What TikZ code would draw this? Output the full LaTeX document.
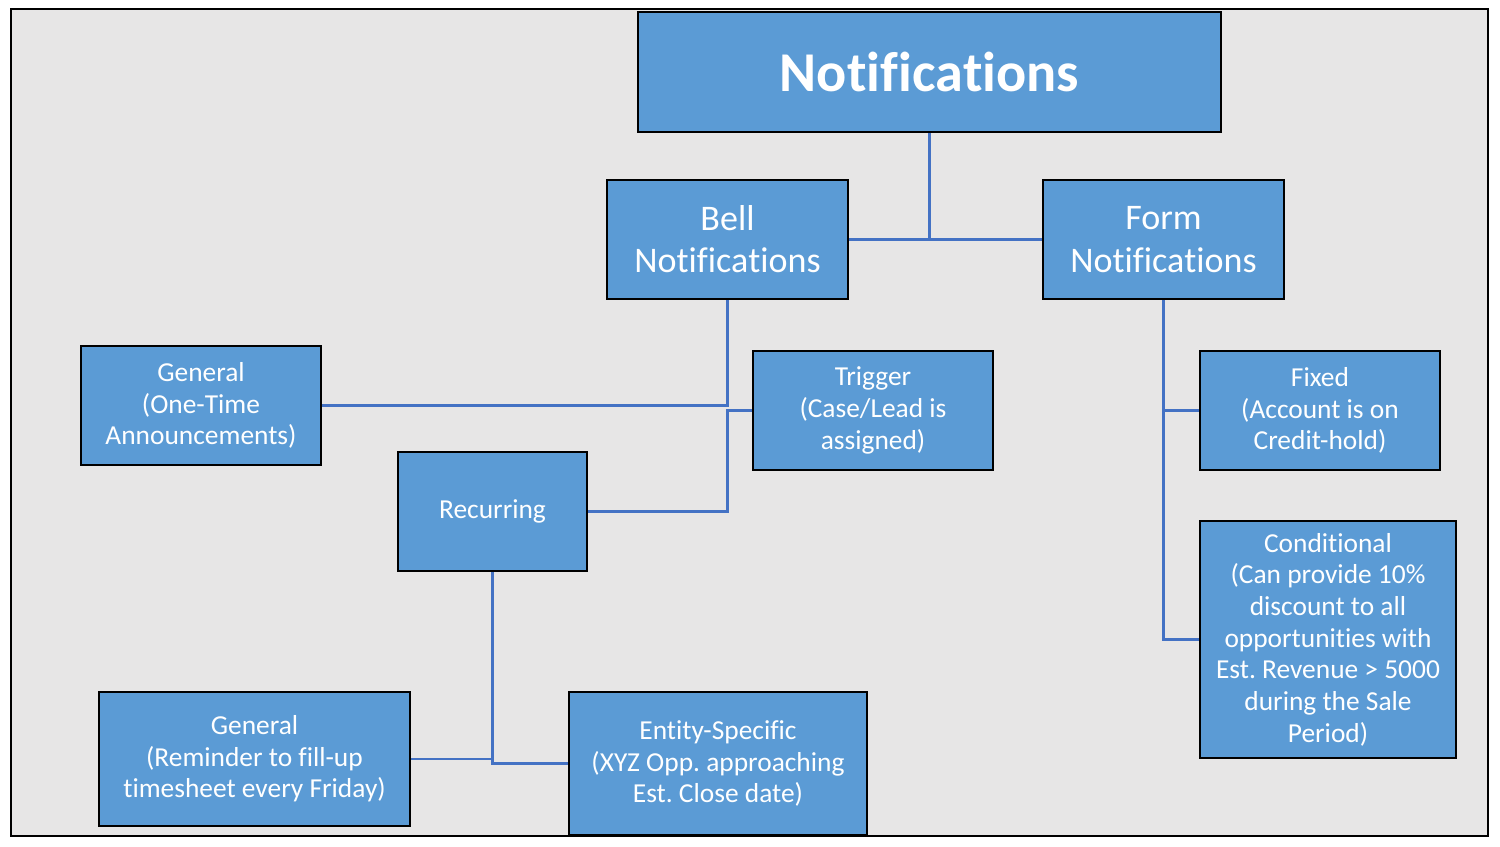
\documentclass[tikz,border=0pt]{standalone}
\usepackage{fontspec}
\setmainfont{Carlito}[Ligatures={NoCommon,NoContextual}]
\usetikzlibrary{calc}
\frenchspacing

\definecolor{boxblue}{HTML}{5B9BD5}
\definecolor{linkblue}{HTML}{4472C4}
\definecolor{panelgray}{HTML}{E7E6E6}

% keep "ti" apart
\newcommand{\notifword}{Notifica\kern0pt tions}

\begin{document}
\begin{tikzpicture}[x=0.02cm, y=-0.02cm,
  box/.style={draw=black, line width=1.3pt, fill=boxblue, text=white,
    align=center, inner sep=0pt},
  small/.style={font=\fontsize{15.6}{18}\selectfont},
  mid/.style={font=\fontsize{20.5}{24}\selectfont},
  link/.style={draw=linkblue, line width=1.5pt}]

\useasboundingbox (0,0) rectangle (1500,846);

% Panel
\draw[fill=panelgray, line width=0.7pt] (11,9) rectangle (1488,836);

% Boxes
\node[box, minimum width=11.66cm, minimum height=2.4cm,
  font=\fontsize{32}{38}\selectfont\bfseries] (notif) at (929.5,72) {\notifword};
\node[box, mid, minimum width=4.82cm, minimum height=2.38cm] (bell) at (727.5,239.5)
  {Bell\\\notifword};
\node[box, mid, minimum width=4.82cm, minimum height=2.38cm] (form) at (1163.5,239.5)
  {Form\\\notifword};
\node[box, small, minimum width=4.8cm, minimum height=2.38cm] (gen1) at (201,405.5)
  {General\\(One-Time\\Announcements)};
\node[box, small, minimum width=4.8cm, minimum height=2.38cm] (trigger) at (873,410.5)
  {Trigger\\(Case/Lead is\\assigned)};
\node[box, small, minimum width=3.78cm, minimum height=2.38cm] (recur) at (492.5,511.5)
  {Recurring};
\node[box, small, minimum width=4.8cm, minimum height=2.38cm] (fixed) at (1320,410.5)
  {Fixed\\(Account is on\\Credit-hold)};
\node[box, small, minimum width=5.12cm, minimum height=4.74cm] (cond) at (1328,639.5)
  {Conditional\\(Can provide 10\%\\discount to all\\opportunities with\\Est. Revenue > 5000\\during the Sale\\Period)};
\node[box, small, minimum width=6.22cm, minimum height=2.68cm] (gen2) at (254.5,759)
  {General\\(Reminder to fill-up\\timesheet every Friday)};
\node[box, small, minimum width=5.96cm, minimum height=2.86cm] (entity) at (718,763.5)
  {Entity-Specific\\(XYZ Opp. approaching\\Est. Close date)};

% Connectors
\draw[link] (notif.south) -- (notif.south |- bell.east);
\draw[link] (bell.east) -- (form.west);
\draw[link] (bell.south) |- (gen1.east);
\coordinate (tj) at (bell.south |- trigger.west);
\draw[link] (trigger.west) -- (tj) |- (recur.east);
\draw[link] (recur.south) |- (gen2.east);
\draw[link] (entity.west) -| (recur.south);
\draw[link] (form.south) |- (cond.west);
\draw[link] (fixed.west) -- (form.south |- fixed.west);

\end{tikzpicture}
\end{document}
